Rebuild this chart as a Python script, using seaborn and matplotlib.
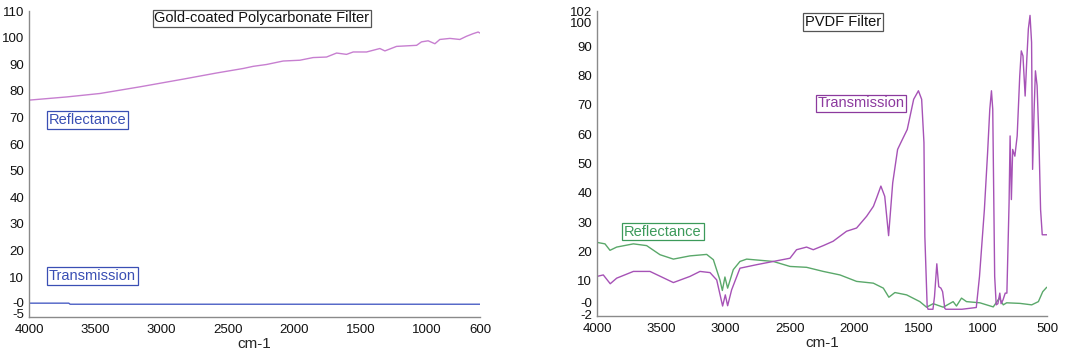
import numpy as np
import pandas as pd
import matplotlib
matplotlib.use("Agg")
import matplotlib.pyplot as plt
import seaborn as sns
from matplotlib.transforms import ScaledTranslation

# ---------------- data ----------------
# Left panel: Gold-coated Polycarbonate Filter
gold_refl_wn = [4000, 3716, 3465, 3164, 2837, 2586, 2385, 2310, 2209, 2084, 1958, 1858,
                1757, 1681, 1606, 1556, 1455, 1355, 1317, 1229, 1078, 1041, 991, 940,
                903, 827, 752, 702, 651, 614, 600]
gold_refl_val = [76.5, 77.7, 79.0, 81.5, 84.4, 86.7, 88.4, 89.2, 89.9, 91.2, 91.5, 92.5,
                 92.7, 94.2, 93.7, 94.6, 94.6, 95.9, 95.0, 96.7, 97.1, 98.4, 98.8, 97.7,
                 99.3, 99.7, 99.3, 100.5, 101.5, 102.1, 101.7]
gold_trans_wn = [4000, 3700, 3690, 600]
gold_trans_val = [0.2, 0.2, -0.2, -0.2]

# Right panel: PVDF Filter
pvdf_trans_wn = [4000, 3951, 3897, 3847, 3717, 3588, 3406, 3277, 3199, 3121, 3069, 3023,
                 3002, 2984, 2953, 2888, 2758, 2629, 2499, 2448, 2370, 2318, 2240, 2163,
                 2059, 1981, 1903, 1850, 1825, 1792, 1762, 1732, 1700, 1662, 1637, 1587,
                 1537, 1500, 1475, 1457, 1450, 1432, 1425, 1387, 1375, 1357, 1342, 1325,
                 1312, 1295, 1287, 1162, 1050, 1025, 987, 962, 945, 932, 922, 907, 895,
                 882, 867, 857, 842, 825, 812, 795, 787, 777, 767, 750, 732, 712, 700,
                 687, 670, 657, 645, 632, 620, 612, 600, 590, 577, 562, 550, 537, 517, 500]
pvdf_trans_val = [11.5, 12.0, 9.0, 10.9, 13.2, 13.2, 9.4, 11.5, 13.2, 12.8, 10.3, 1.4,
                  5.2, 1.5, 6.9, 14.3, 15.5, 16.6, 17.7, 20.6, 21.5, 20.6, 22.0, 23.5,
                  26.9, 28.0, 32.0, 35.4, 38.3, 42.3, 38.8, 25.4, 43.4, 54.8, 57.1, 61.6,
                  71.9, 74.8, 71.9, 57.1, 25.1, 1.2, 0.3, 0.3, 4.6, 15.8, 8.0, 7.5,
                  6.3, 0.6, 0.3, 0.3, 0.9, 11.5, 34.3, 53.7, 68.5, 74.8, 68.5, 11.5, 1.8,
                  2.2, 5.8, 2.2, 3.5, 5.8, 5.8, 36.6, 59.4, 37.7, 54.8, 52.5, 59.4, 79.9, 88.4,
                  86.7, 73.0, 85.6, 95.9, 100.5, 91.3, 48.0, 68.5, 81.6, 76.5, 57.0, 34.3,
                  25.7, 25.7, 25.7]
pvdf_refl_wn = [4000, 3938, 3899, 3847, 3717, 3614, 3510, 3406, 3277, 3147, 3095, 3044,
                3025, 3005, 2984, 2940, 2888, 2836, 2629, 2499, 2370, 2240, 2110, 1981,
                1851, 1773, 1730, 1683, 1592, 1489, 1437, 1385, 1307, 1230, 1204, 1165,
                1126, 1022, 918, 871, 840, 814, 710, 619, 567, 533, 502]
pvdf_refl_val = [23.1, 22.6, 20.4, 21.5, 22.6, 22.0, 18.9, 17.4, 18.5, 19.0, 17.2, 10.3,
                 6.7, 11.3, 7.5, 13.8, 16.6, 17.4, 16.6, 14.9, 14.6, 13.2, 12.0, 9.8,
                 9.2, 7.5, 4.4, 6.0, 5.2, 2.9, 1.0, 2.2, 1.0, 2.9, 1.4, 4.1,
                 2.9, 2.5, 1.1, 4.1, 1.8, 2.5, 2.3, 1.8, 2.9, 6.3, 7.8]

left_yticks = [-5, 0, 10, 20, 30, 40, 50, 60, 70, 80, 90, 100, 110]
left_ylabels = ["-5", "-0", "10", "20", "30", "40", "50", "60", "70", "80", "90", "100", "110"]
left_xticks = [4000, 3500, 3000, 2500, 2000, 1500, 1000, 600]
right_yticks = [-2, 0, 10, 20, 30, 40, 50, 60, 70, 80, 90, 100, 102]
right_ylabels = ["-2", "-0", "10", "20", "30", "40", "50", "60", "70", "80", "90", "100", "102"]
right_xticks = [4000, 3500, 3000, 2500, 2000, 1500, 1000, 500]

# ---------------- style ----------------
sns.set_style("white")
plt.rcParams['font.family'] = ['Liberation Sans', 'DejaVu Sans']

C_GOLD_REFL = "#c77fd0"
C_BLUE = "#4a5ec4"
C_BLUE_TXT = "#3a4fb4"
C_PURPLE = "#a652b6"
C_PURPLE_TXT = "#8c3a9e"
C_GREEN = "#5aa86a"
C_GREEN_TXT = "#3c9a5a"
C_SPINE = "#8a8a8a"

fig = plt.figure(figsize=(10.8, 3.53), dpi=100)
ax1 = fig.add_axes([29 / 1080, 36 / 353, 451 / 1080, 306 / 353])
ax2 = fig.add_axes([597 / 1080, 37 / 353, 450 / 1080, 305 / 353])

df_gr = pd.DataFrame({"wn": gold_refl_wn, "val": gold_refl_val})
df_gt = pd.DataFrame({"wn": gold_trans_wn, "val": gold_trans_val})
df_pt = pd.DataFrame({"wn": pvdf_trans_wn, "val": pvdf_trans_val})
df_pr = pd.DataFrame({"wn": pvdf_refl_wn, "val": pvdf_refl_val})

sns.lineplot(data=df_gr, x="wn", y="val", ax=ax1, color=C_GOLD_REFL, lw=1.0, sort=False, estimator=None)
sns.lineplot(data=df_gt, x="wn", y="val", ax=ax1, color=C_BLUE, lw=1.0, sort=False, estimator=None)
sns.lineplot(data=df_pr, x="wn", y="val", ax=ax2, color=C_GREEN, lw=1.0, sort=False, estimator=None)
sns.lineplot(data=df_pt, x="wn", y="val", ax=ax2, color=C_PURPLE, lw=1.0, sort=False, estimator=None)

for ax in (ax1, ax2):
    ax.set_ylabel("")
    ax.set_xlabel("cm-1", fontsize=11, labelpad=0.5)
    for s in ("top", "right"):
        ax.spines[s].set_visible(False)
    for s in ("left", "bottom"):
        ax.spines[s].set_color(C_SPINE)
        ax.spines[s].set_linewidth(1.0)
    ax.tick_params(axis="both", direction="out", length=3, width=0.8, color=C_SPINE,
                   labelsize=9.5, pad=0.5, labelcolor="#111111")
    ax.tick_params(axis="x", pad=2)
    ax.grid(False)

ax1.set_xlim(4000, 600)
ax1.set_ylim(-5, 110)
ax1.set_xticks(left_xticks)
ax1.set_xticklabels([str(t) for t in left_xticks])
ax1.set_yticks(left_yticks)
ax1.set_yticklabels(left_ylabels)

ax2.set_xlim(4000, 500)
ax2.set_ylim(-2, 102)
ax2.set_xticks(right_xticks)
ax2.set_xticklabels([str(t) for t in right_xticks])
ax2.set_yticks(right_yticks)
ax2.set_yticklabels(right_ylabels)

def shift(label, dy_px):
    label.set_transform(label.get_transform() + ScaledTranslation(0, dy_px / 100, fig.dpi_scale_trans))

# shift crowded labels like the original software does
l1 = ax1.get_yticklabels()
shift(l1[0], 3)
shift(l1[1], 1)
l2 = ax2.get_yticklabels()
shift(l2[0], 1.5)
shift(l2[1], 8)
shift(l2[11], -6)

def box(ax, x, y, s, color, ec, ha="center"):
    ax.text(x, y, s, ha=ha, va="center", fontsize=10.5, color=color,
            bbox=dict(boxstyle="square,pad=0.12", fc="white", ec=ec, lw=0.9))

box(ax1, 2244, 107.2, "Gold-coated Polycarbonate Filter", "#111111", "#555555")
box(ax1, 3850, 69, "Reflectance", C_BLUE_TXT, C_BLUE_TXT, ha="left")
box(ax1, 3850, 10.5, "Transmission", C_BLUE_TXT, C_BLUE_TXT, ha="left")
box(ax2, 2087, 98.3, "PVDF Filter", "#111111", "#555555")
box(ax2, 1947, 70.5, "Transmission", C_PURPLE_TXT, C_PURPLE_TXT)
box(ax2, 3487, 26.8, "Reflectance", C_GREEN_TXT, C_GREEN_TXT)

fig.savefig("out.png", dpi=100)
